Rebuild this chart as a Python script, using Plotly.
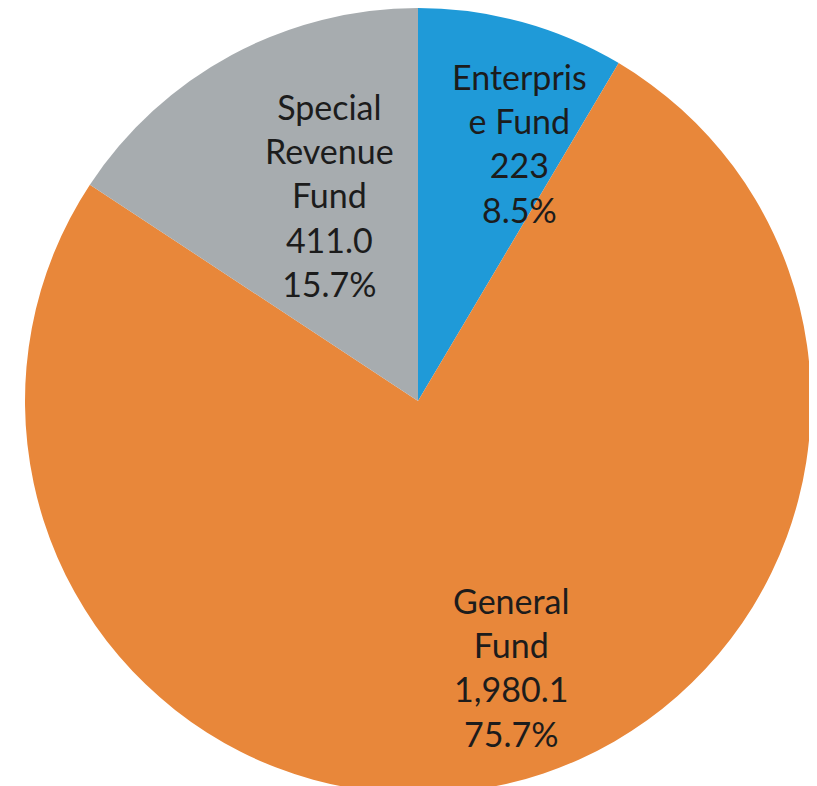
import plotly.graph_objects as go

labels = ["Enterpris<br>e Fund", "General<br>Fund", "Special<br>Revenue<br>Fund"]
values = [223, 1980.1, 411.0]
value_text = ["223", "1,980.1", "411.0"]
colors = ["#1F9AD8", "#E8873A", "#A7ACAF"]

# label block centres in pixels (layout only)
label_px = [(511, 135), (503, 659), (321, 187)]

W, H = 817, 786
ML, MR, MT, MB = 3, 0, 0, 0

fig = go.Figure(
    go.Pie(
        labels=labels,
        values=values,
        sort=False,
        direction="clockwise",
        rotation=0,
        marker=dict(colors=colors, line=dict(width=0)),
        textinfo="none",
        showlegend=False,
        hoverinfo="skip",
    )
)

total = sum(values)
for lab, v, vt, (px, py) in zip(labels, values, value_text, label_px):
    fig.add_annotation(
        x=(px - ML) / (W - ML - MR),
        y=1 - (py - MT) / (H - MT - MB),
        xref="paper",
        yref="paper",
        text=f"{lab}<br>{vt}<br>{v / total * 100:.1f}%",
        showarrow=False,
        align="center",
        xanchor="center",
        yanchor="middle",
        font=dict(family="Lato", size=34, color="#1c1c1c"),
    )

fig.update_layout(
    width=W,
    height=H,
    margin=dict(l=ML, r=MR, t=MT, b=MB),
    paper_bgcolor="white",
    plot_bgcolor="white",
)
fig.write_html("out.html")
